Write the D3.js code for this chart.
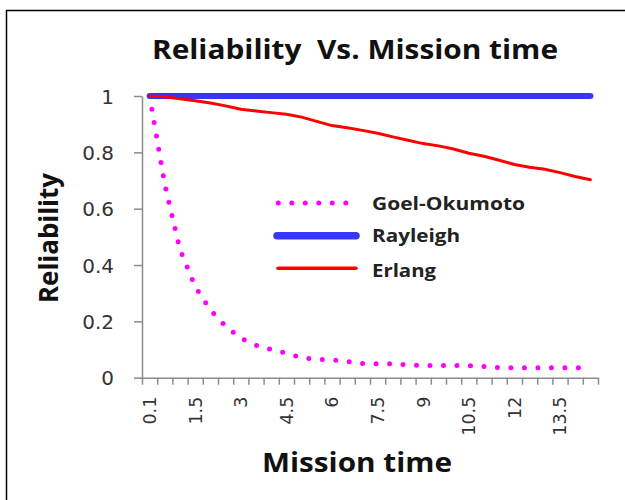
<!DOCTYPE html>
<html>
<head>
<meta charset="utf-8">
<script src="https://cdn.jsdelivr.net/npm/d3@7"></script>
<style>
  body { margin: 0; background: #fff; }
  svg { display: block; }
</style>
</head>
<body>
<svg id="chart" width="625" height="500"></svg>
<script>
const width = 625;
const height = 500;

// mission time categories (Excel category axis)
const times = ["0.1", "0.5", "1", "1.5", "2", "2.5", "3", "3.5", "4", "4.5",
  "5", "5.5", "6", "6.5", "7", "7.5", "8", "8.5", "9", "9.5",
  "10", "10.5", "11", "11.5", "12", "12.5", "13", "13.5", "14", "14.5"];
const shownTimes = ["0.1", "1.5", "3", "4.5", "6", "7.5", "9", "10.5", "12", "13.5"];

const goel = [1.0, 0.685, 0.455, 0.323, 0.24, 0.183, 0.14, 0.115, 0.1, 0.087,
  0.071, 0.065, 0.063, 0.058, 0.05, 0.049, 0.05, 0.045, 0.043, 0.043,
  0.043, 0.043, 0.04, 0.036, 0.035, 0.035, 0.035, 0.035, 0.035, 0.035];
const rayleigh = [1, 1, 1, 1, 1, 1, 1, 1, 1, 1, 1, 1, 1, 1, 1,
  1, 1, 1, 1, 1, 1, 1, 1, 1, 1, 1, 1, 1, 1, 1];
const erlang = [1.0, 0.997, 0.99, 0.983, 0.975, 0.965, 0.953, 0.947, 0.941, 0.935,
  0.925, 0.91, 0.895, 0.887, 0.878, 0.868, 0.855, 0.843, 0.831, 0.823,
  0.812, 0.797, 0.786, 0.772, 0.757, 0.747, 0.74, 0.728, 0.714, 0.703];

const yTicks = [0, 0.2, 0.4, 0.6, 0.8, 1];
const yTickLabels = ["0", "0.2", "0.4", "0.6", "0.8", "1"];

const series = [
  { name: "Goel-Okumoto", values: goel, color: "#ff00ff", width: 5, dash: "0 13.5" },
  { name: "Rayleigh", values: rayleigh, color: "#3636ff", width: 6, dash: null },
  { name: "Erlang", values: erlang, color: "#ff0000", width: 3, dash: null }
];

const svg = d3.select("#chart");

// frame (only left and top edges show in the picture)
svg.append("path")
  .attr("d", "M6.5,500V10.5H625")
  .attr("fill", "none")
  .attr("stroke", "#000")
  .attr("stroke-width", 1.5);

const x = d3.scaleBand()
  .domain(times)
  .range([142, 598])
  .paddingInner(0)
  .paddingOuter(0);

const xEdges = d3.scaleLinear()
  .domain([0, times.length])
  .range([142, 598]);

const y = d3.scaleLinear()
  .domain([0, 1])
  .range([377.7, 96]);

const axisColor = "#8c8c8c";

// y axis
const gy = svg.append("g")
  .attr("transform", "translate(142,0)")
  .call(d3.axisLeft(y)
    .tickValues(yTicks)
    .tickFormat((d, i) => yTickLabels[i])
    .tickSize(8)
    .tickSizeOuter(0)
    .tickPadding(20));
gy.selectAll("path, line").attr("stroke", axisColor).attr("stroke-width", 1.5);
gy.selectAll("text")
  .attr("font-family", "DejaVu Sans")
  .attr("font-size", 20)
  .attr("fill", "#333")
  .attr("dy", "0.36em");

// x axis: tick marks between categories
const gxTicks = svg.append("g")
  .attr("transform", "translate(0,377.7)")
  .call(d3.axisBottom(xEdges)
    .tickValues(d3.range(times.length + 1))
    .tickFormat("")
    .tickSize(7)
    .tickSizeOuter(0));
gxTicks.selectAll("path, line").attr("stroke", axisColor).attr("stroke-width", 1.5);

// x axis labels, rotated
const gx = svg.append("g")
  .attr("transform", "translate(0,377.7)")
  .call(d3.axisBottom(x)
    .tickValues(shownTimes)
    .tickSize(0));
gx.select(".domain").remove();
gx.selectAll("text")
  .attr("font-family", "DejaVu Sans")
  .attr("font-size", 17.5)
  .attr("fill", "#333")
  .attr("transform", "rotate(-90)")
  .attr("text-anchor", "end")
  .attr("x", -19)
  .attr("y", 0)
  .attr("dy", "0.36em");

// lines
const line = vals => d3.line()
  .x((d, i) => x(times[i]) + x.bandwidth() / 2)
  .y(d => y(d))(vals);

svg.append("g")
  .selectAll("path")
  .data(series)
  .join("path")
  .attr("d", d => line(d.values))
  .attr("fill", "none")
  .attr("stroke", d => d.color)
  .attr("stroke-width", d => d.width)
  .attr("stroke-linecap", "round")
  .attr("stroke-linejoin", "round")
  .attr("stroke-dasharray", d => d.dash);

// legend
const legendRows = [
  { y: 203, textY: 209.5, len: 153, x1: 278.3, x2: 346, w: 5 },
  { y: 235.7, textY: 241.7, len: 88, x1: 277, x2: 356, w: 7.5 },
  { y: 268.3, textY: 276.5, len: 64, x1: 278, x2: 356, w: 3.5 }
];
const legend = svg.append("g");
series.forEach((s, i) => {
  const r = legendRows[i];
  legend.append("line")
    .attr("x1", r.x1).attr("x2", r.x2)
    .attr("y1", r.y).attr("y2", r.y)
    .attr("stroke", s.color)
    .attr("stroke-width", r.w)
    .attr("stroke-linecap", "round")
    .attr("stroke-dasharray", s.dash);
  legend.append("text")
    .attr("x", 372)
    .attr("y", r.textY)
    .attr("font-family", "Open Sans")
    .attr("font-weight", "bold")
    .attr("font-size", 18)
    .attr("fill", "#222")
    .attr("textLength", r.len)
    .attr("lengthAdjust", "spacingAndGlyphs")
    .text(s.name);
});

// titles
svg.append("text")
  .attr("x", 152)
  .attr("y", 58.5)
  .attr("font-family", "Open Sans")
  .attr("font-weight", "bold")
  .attr("font-size", 26)
  .attr("fill", "#111")
  .attr("textLength", 406)
  .attr("lengthAdjust", "spacingAndGlyphs")
  .style("white-space", "pre")
  .text("Reliability  Vs. Mission time");

svg.append("text")
  .attr("x", 262)
  .attr("y", 472)
  .attr("font-family", "Open Sans")
  .attr("font-weight", "bold")
  .attr("font-size", 26)
  .attr("fill", "#111")
  .attr("textLength", 190)
  .attr("lengthAdjust", "spacingAndGlyphs")
  .text("Mission time");

svg.append("text")
  .attr("transform", "translate(58,303) rotate(-90)")
  .attr("font-family", "Open Sans")
  .attr("font-weight", "bold")
  .attr("font-size", 27)
  .attr("fill", "#111")
  .attr("textLength", 130)
  .attr("lengthAdjust", "spacingAndGlyphs")
  .text("Reliability");
</script>
</body>
</html>
